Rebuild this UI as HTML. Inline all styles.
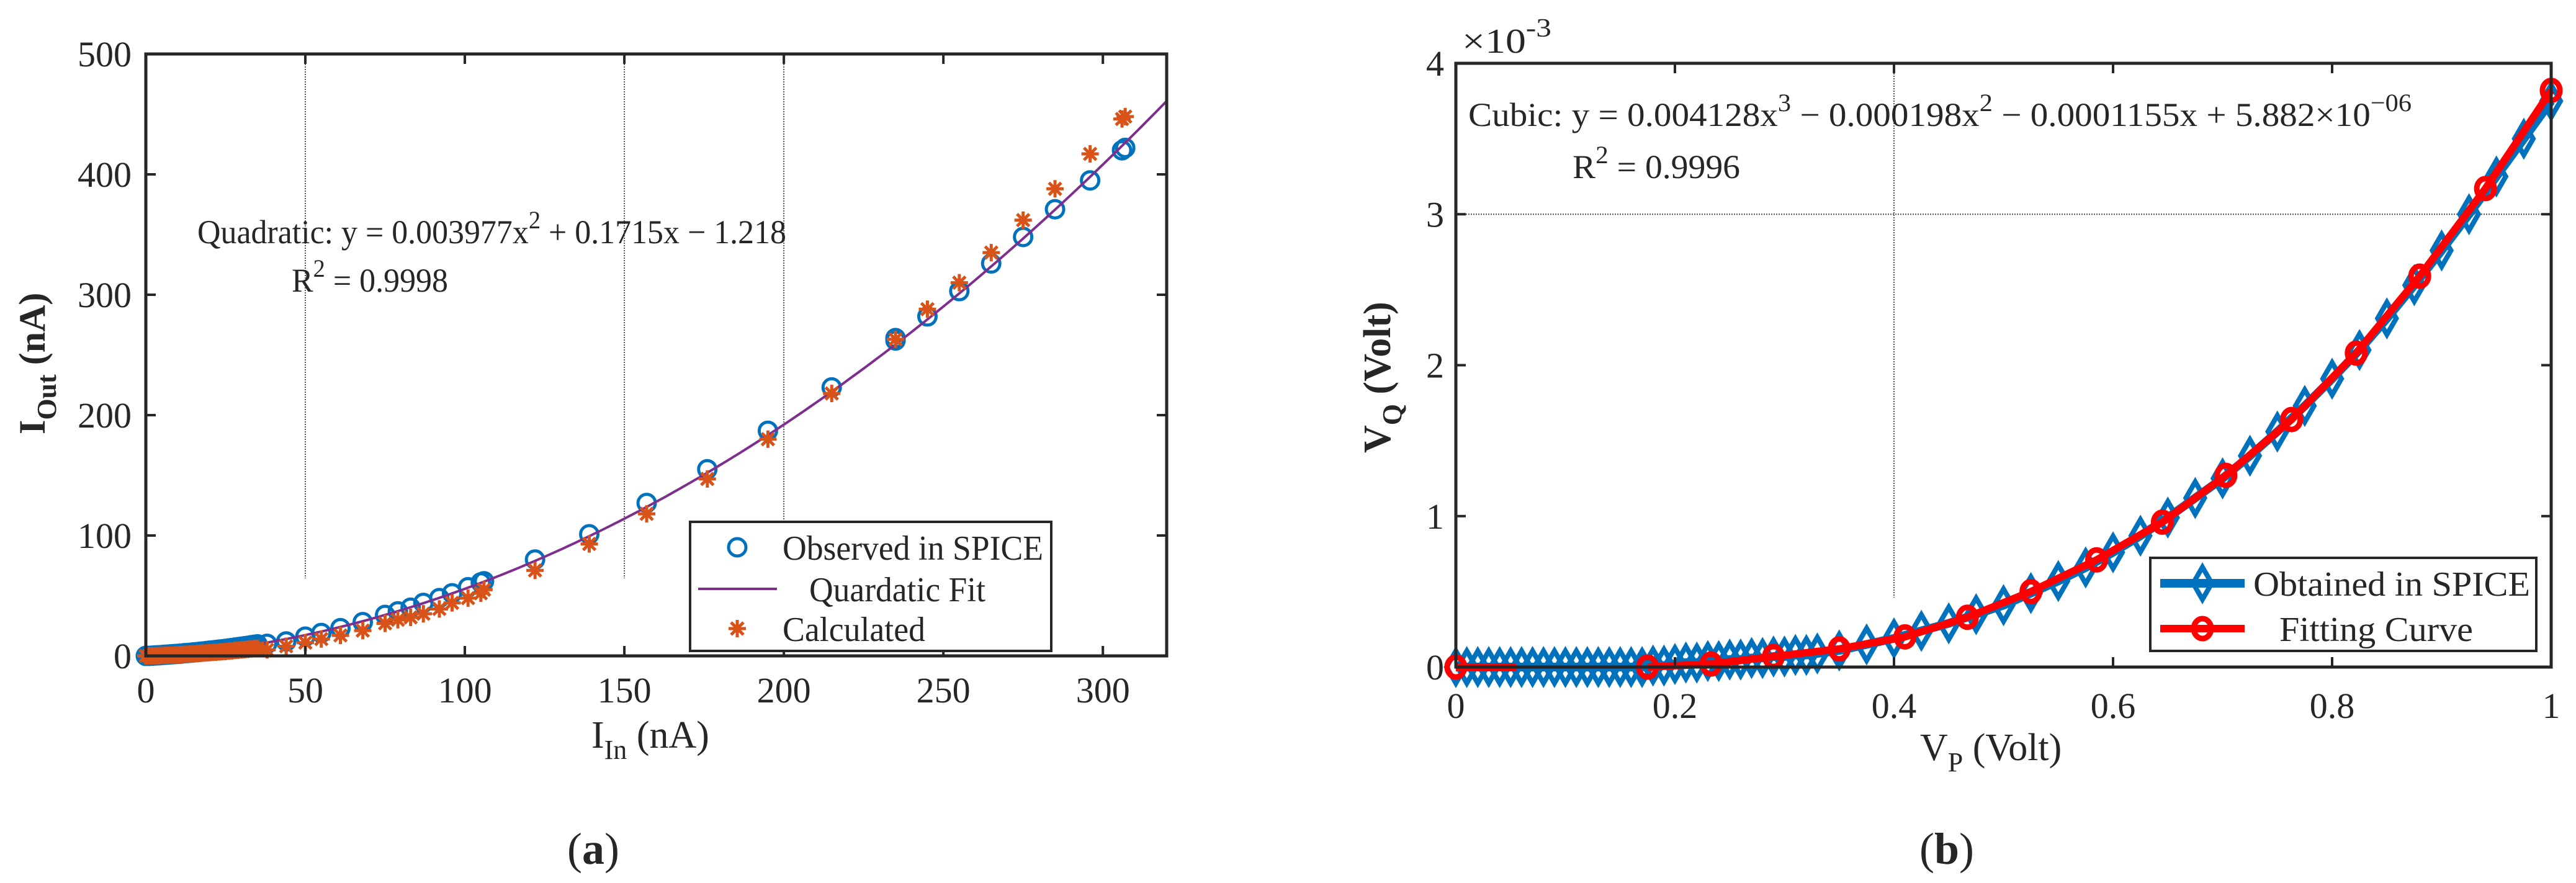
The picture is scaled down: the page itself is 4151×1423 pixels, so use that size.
<!DOCTYPE html>
<html><head><meta charset="utf-8"><style>
html,body{margin:0;padding:0;background:#fff}
svg{display:block}
svg text{font-family:"Liberation Serif","Times New Roman",serif;fill:#262626}
</style></head><body>
<svg id="s" width="4151" height="1423" viewBox="0 0 4151 1423" xmlns="http://www.w3.org/2000/svg" font-family="Liberation Serif, serif">
<g id="pa" font-family="Liberation Serif, serif"></g>
<g id="pb" font-family="Liberation Serif, serif"></g>
</svg>
<script>
// ---------- Panel (a) data ----------
const aXTicks=[0,50,100,150,200,250,300];
const aYTicks=[0,100,200,300,400,500];
const aGridX=[50,150,200];
const aObsX=[0,1,2,3,4,5,6,7,8,9,10,11,12,13,14,15,16,17,18,19,20,21,22,23,24,25,26,27,28,29,30,31,32,33,34,35,38,44,50,55,61,68,75,79,83,87,92,96,101,105,106,122,139,157,176,195,215,235,235,245,255,265,275,285,296,306,307];
const aObsY=[0,0,0.2,0.4,0.5,0.7,0.9,1.1,1.3,1.5,1.7,1.9,2.2,2.4,2.6,2.9,3.1,3.4,3.7,4,4.3,4.6,4.9,5.2,5.5,5.8,6.2,6.5,6.9,7.3,7.6,8,8.4,8.8,9.2,9.6,10,12,16,19,23,28,34,37,40,44,48,52,57,61,62,80,101,127,155,187,223,262,264,282,303,326,348,371,395,420,422];
const aCalcX=[0,1,2,3,4,5,6,7,8,9,10,11,12,13,14,15,16,17,18,19,20,21,22,23,24,25,26,27,28,29,30,31,32,33,34,35,38,44,50,55,61,68,75,79,83,87,92,96,101,105,106,122,139,157,176,195,215,235,245,255,265,275,285,296,306,307];
const aCalcY=[0,0,0,0.1,0.2,0.3,0.4,0.5,0.6,0.7,0.9,1,1.2,1.4,1.5,1.7,1.9,2.1,2.3,2.5,2.7,2.9,3.1,3.3,3.5,3.7,4,4.2,4.5,4.7,5,5.2,5.5,5.8,6.1,6.4,5,8,11,14,17,21,27,30,32,35,39,44,48,52,55,71,93,118,147,180,218,263,288,310,335,362,388,417,446,448];
const aFitCoef=[0.003977,0.1715,-1.218];
const aFitRange=[5,320];

// ---------- Panel (b) data ----------
const bXTicks=[0,0.2,0.4,0.6,0.8,1];
const bXTickLabels=["0","0.2","0.4","0.6","0.8","1"];
const bYTicks=[0,1,2,3,4];
const bObsX=[0,0.01,0.02,0.03,0.04,0.05,0.06,0.07,0.08,0.09,0.1,0.11,0.12,0.13,0.14,0.15,0.16,0.17,0.18,0.19,0.2,0.21,0.22,0.23,0.24,0.25,0.26,0.27,0.28,0.29,0.3,0.31,0.32,0.33,0.35,0.375,0.4,0.425,0.45,0.475,0.5,0.525,0.55,0.575,0.6,0.625,0.65,0.675,0.7,0.725,0.75,0.775,0.8,0.825,0.85,0.875,0.9,0.925,0.95,0.975,1];
const bObsY=[0,0,0,0,0,0,0,0,0,0,0,0,0,0,0,0,0,0,0.01,0.01,0.02,0.03,0.03,0.04,0.04,0.05,0.05,0.06,0.06,0.07,0.07,0.08,0.08,0.09,0.11,0.15,0.19,0.24,0.29,0.35,0.41,0.49,0.57,0.66,0.76,0.87,0.99,1.12,1.25,1.4,1.56,1.73,1.91,2.1,2.31,2.53,2.76,3.0,3.25,3.5,3.75];
const bFitSeg1X=[0,0.055];
const bFitSeg1Y=[0,0];
const bFitX=[0.175,0.233,0.29,0.35,0.41,0.467,0.525,0.585,0.645,0.703,0.763,0.822,0.88,0.94,1.0];
const bFitY=[0,0.02,0.07,0.12,0.2,0.33,0.5,0.71,0.96,1.27,1.64,2.08,2.59,3.17,3.82];
const bFitMarkX=[0];
const bFitMarkY=[0];

const NS="http://www.w3.org/2000/svg";
const FF="Liberation Serif, serif";
function mk(parent,tag,attrs,txt){const e=document.createElementNS(NS,tag);for(const k in attrs)e.setAttribute(k,attrs[k]);if(tag==='text')e.setAttribute('font-family',FF);if(txt!==undefined)e.textContent=txt;parent.appendChild(e);return e;}

// ---------- Panel (a) ----------
const pa=document.getElementById('pa');
const aL=235,aR=1880,aT=87,aB=1057;
const ax=v=>aL+(v-0)/(320-0)*(aR-aL);
const ay=v=>aB-(v-0)/(500-0)*(aB-aT);
aGridX.forEach(g=>{const l=mk(pa,'line',{x1:ax(g),x2:ax(g),y1:aT,y2:932,stroke:'#555','stroke-width':2,'stroke-dasharray':'2 2'});

});
let fd='';for(let i=0;i<=200;i++){const x=aFitRange[0]+(aFitRange[1]-aFitRange[0])*i/200;const y=aFitCoef[0]*x*x+aFitCoef[1]*x+aFitCoef[2];fd+=(i?'L':'M')+ax(x).toFixed(1)+' '+ay(y).toFixed(1);}
aObsX.forEach((x,i)=>{const c=mk(pa,'circle',{cx:ax(x),cy:ay(aObsY[i]),r:14,fill:'none',stroke:'#0072BD','stroke-width':5});

});
const fit=mk(pa,'path',{d:fd,fill:'none',stroke:'#7E2F8E','stroke-width':4});


function star(parent,cx,cy,s){let d='';for(let k=0;k<4;k++){const a=k*Math.PI/4;d+=`M${cx-s*Math.cos(a)} ${cy-s*Math.sin(a)}L${cx+s*Math.cos(a)} ${cy+s*Math.sin(a)}`;}return mk(parent,'path',{d:d,stroke:'#D95319','stroke-width':5,fill:'none'});}
aCalcX.forEach((x,i)=>{const p=star(pa,ax(x),ay(aCalcY[i]),14);

});
mk(pa,'rect',{x:aL,y:aT,width:aR-aL,height:aB-aT,fill:'none',stroke:'#262626','stroke-width':5,});
aXTicks.forEach(v=>{mk(pa,'line',{x1:ax(v),x2:ax(v),y1:aB,y2:aB-16,stroke:'#262626','stroke-width':4});mk(pa,'line',{x1:ax(v),x2:ax(v),y1:aT,y2:aT+16,stroke:'#262626','stroke-width':4});
const t=mk(pa,'text',{x:ax(v),y:1132,'font-size':58,'text-anchor':'middle'},String(v));

});
aYTicks.forEach(v=>{mk(pa,'line',{x1:aL,x2:aL+16,y1:ay(v),y2:ay(v),stroke:'#262626','stroke-width':4});mk(pa,'line',{x1:aR,x2:aR-16,y1:ay(v),y2:ay(v),stroke:'#262626','stroke-width':4});
const t=mk(pa,'text',{x:212,y:ay(v)+20,'font-size':58,'text-anchor':'end'},String(v));

});

pa.insertAdjacentHTML('beforeend',`
<text font-family="Liberation Serif, serif" x="953" y="1205" font-size="62">I<tspan dy="18" font-size="44">In</tspan><tspan dy="-18"> (nA)</tspan></text>
<text font-family="Liberation Serif, serif" transform="translate(72,700) rotate(-90)" font-size="60" font-weight="bold">I<tspan dy="18" font-size="44">Out</tspan><tspan dy="-18"> (nA)</tspan></text>
<text font-family="Liberation Serif, serif" x="318" y="392" font-size="54" textLength="949" lengthAdjust="spacingAndGlyphs">Quadratic:  y = 0.003977x<tspan dy="-24" font-size="40">2</tspan><tspan dy="24"> + 0.1715x − 1.218</tspan></text>
<text font-family="Liberation Serif, serif" x="470" y="470" font-size="54" textLength="252" lengthAdjust="spacingAndGlyphs">R<tspan dy="-24" font-size="40">2</tspan><tspan dy="24"> = 0.9998</tspan></text>
<g>
<rect x="1112" y="841" width="582" height="208" fill="#fff" stroke="#262626" stroke-width="4"/>
<circle cx="1188" cy="882" r="14" fill="none" stroke="#0072BD" stroke-width="5"/>
<text font-family="Liberation Serif, serif" x="1261" y="902" font-size="56" textLength="420" lengthAdjust="spacingAndGlyphs">Observed in SPICE</text>
<line x1="1125" y1="949" x2="1252" y2="949" stroke="#7E2F8E" stroke-width="4"/>
<text font-family="Liberation Serif, serif" x="1304" y="969" font-size="56" textLength="284" lengthAdjust="spacingAndGlyphs">Quardatic Fit</text>
<path d="M1174 1013L1202 1013M1188 999L1188 1027M1178 1003L1198 1023M1178 1023L1198 1003" stroke="#D95319" stroke-width="5"/>
<text font-family="Liberation Serif, serif" x="1261" y="1033" font-size="56" textLength="230" lengthAdjust="spacingAndGlyphs">Calculated</text>
</g>
<text font-family="Liberation Serif, serif" x="956" y="1392" font-size="72" text-anchor="middle">(<tspan font-weight="bold">a</tspan>)</text>
`);

// ---------- Panel (b) ----------
const pb=document.getElementById('pb');
const bL=2346,bR=4111,bT=102,bB=1075;
const bx=v=>bL+(v-0)/(1-0)*(bR-bL);
const by=v=>bB-(v-0)/(4-0)*(bB-bT);
const gh=mk(pb,'line',{x1:bL,x2:bR,y1:by(3),y2:by(3),stroke:'#555','stroke-width':2,'stroke-dasharray':'2 2'});


const gv=mk(pb,'line',{x1:bx(0.4),x2:bx(0.4),y1:bT,y2:963,stroke:'#555','stroke-width':2,'stroke-dasharray':'2 2'});


let bd='';bObsX.forEach((x,i)=>{bd+=(i?'L':'M')+bx(x).toFixed(1)+' '+by(bObsY[i]).toFixed(1);});
const bl=mk(pb,'path',{d:bd,fill:'none',stroke:'#0072BD','stroke-width':14});


bObsX.forEach((x,i)=>{const cx=bx(x),cy=by(bObsY[i]);const d=mk(pb,'path',{d:`M${cx} ${cy-26}L${cx+15} ${cy}L${cx} ${cy+26}L${cx-15} ${cy}Z`,fill:'none',stroke:'#0072BD','stroke-width':8});

});
let r1='';bFitSeg1X.forEach((x,i)=>{r1+=(i?'L':'M')+bx(x)+' '+by(bFitSeg1Y[i]);});
const rl1=mk(pb,'path',{d:r1,fill:'none',stroke:'#FF0000','stroke-width':12});


let r2='';bFitX.forEach((x,i)=>{r2+=(i?'L':'M')+bx(x).toFixed(1)+' '+by(bFitY[i]).toFixed(1);});
const rl2=mk(pb,'path',{d:r2,fill:'none',stroke:'#FF0000','stroke-width':12,'stroke-linejoin':'round'});


bFitX.concat(bFitMarkX).forEach((x,i)=>{const y=i<bFitY.length?bFitY[i]:bFitMarkY[i-bFitY.length];const c=mk(pb,'ellipse',{cx:bx(x),cy:by(y),rx:14,ry:16,fill:'none',stroke:'#FF0000','stroke-width':9});

});
mk(pb,'rect',{x:bL,y:bT,width:bR-bL,height:bB-bT,fill:'none',stroke:'#262626','stroke-width':5,});
bXTicks.forEach((v,i)=>{mk(pb,'line',{x1:bx(v),x2:bx(v),y1:bB,y2:bB-16,stroke:'#262626','stroke-width':4});mk(pb,'line',{x1:bx(v),x2:bx(v),y1:bT,y2:bT+16,stroke:'#262626','stroke-width':4});
const t=mk(pb,'text',{x:bx(v),y:1157,'font-size':58,'text-anchor':'middle'},bXTickLabels[i]);

});
bYTicks.forEach(v=>{mk(pb,'line',{x1:bL,x2:bL+16,y1:by(v),y2:by(v),stroke:'#262626','stroke-width':4});mk(pb,'line',{x1:bR,x2:bR-16,y1:by(v),y2:by(v),stroke:'#262626','stroke-width':4});
const t=mk(pb,'text',{x:2327,y:by(v)+20,'font-size':58,'text-anchor':'end'},String(v));

});
pb.insertAdjacentHTML('beforeend',`
<text font-family="Liberation Serif, serif" x="2356" y="85" font-size="56" textLength="144" lengthAdjust="spacingAndGlyphs">×10<tspan dy="-26" font-size="42">-3</tspan></text>
<text font-family="Liberation Serif, serif" x="2366" y="203" font-size="54" textLength="1520" lengthAdjust="spacingAndGlyphs">Cubic:  y = 0.004128x<tspan dy="-24" font-size="40">3</tspan><tspan dy="24"> − 0.000198x</tspan><tspan dy="-24" font-size="40">2</tspan><tspan dy="24"> − 0.0001155x + 5.882×10</tspan><tspan dy="-24" font-size="40">−06</tspan></text>
<text font-family="Liberation Serif, serif" x="2534" y="287" font-size="54" textLength="270" lengthAdjust="spacingAndGlyphs">R<tspan dy="-24" font-size="40">2</tspan><tspan dy="24"> = 0.9996</tspan></text>
<text font-family="Liberation Serif, serif" x="3094" y="1225" font-size="62">V<tspan dy="18" font-size="44">P</tspan><tspan dy="-18"> (Volt)</tspan></text>
<text font-family="Liberation Serif, serif" transform="translate(2240,730) rotate(-90)" font-size="62" font-weight="bold">V<tspan dy="18" font-size="44">Q</tspan><tspan dy="-18"> (Volt)</tspan></text>
<g>
<rect x="3465" y="899" width="622" height="150" fill="#fff" stroke="#262626" stroke-width="4"/>
<line x1="3481" y1="940" x2="3617" y2="940" stroke="#0072BD" stroke-width="14"/>
<path d="M3549 914L3564 940L3549 966L3534 940Z" fill="none" stroke="#0072BD" stroke-width="8"/>
<text font-family="Liberation Serif, serif" x="3631" y="960" font-size="56" textLength="446" lengthAdjust="spacingAndGlyphs">Obtained in SPICE</text>
<line x1="3481" y1="1013" x2="3617" y2="1013" stroke="#FF0000" stroke-width="12"/>
<ellipse cx="3549" cy="1013" rx="14" ry="16" fill="none" stroke="#FF0000" stroke-width="9"/>
<text font-family="Liberation Serif, serif" x="3673" y="1033" font-size="56" textLength="312" lengthAdjust="spacingAndGlyphs">Fitting Curve</text>
</g>
<text font-family="Liberation Serif, serif" x="3137" y="1392" font-size="72" text-anchor="middle">(<tspan font-weight="bold">b</tspan>)</text>
`);
</script>
</body></html>
